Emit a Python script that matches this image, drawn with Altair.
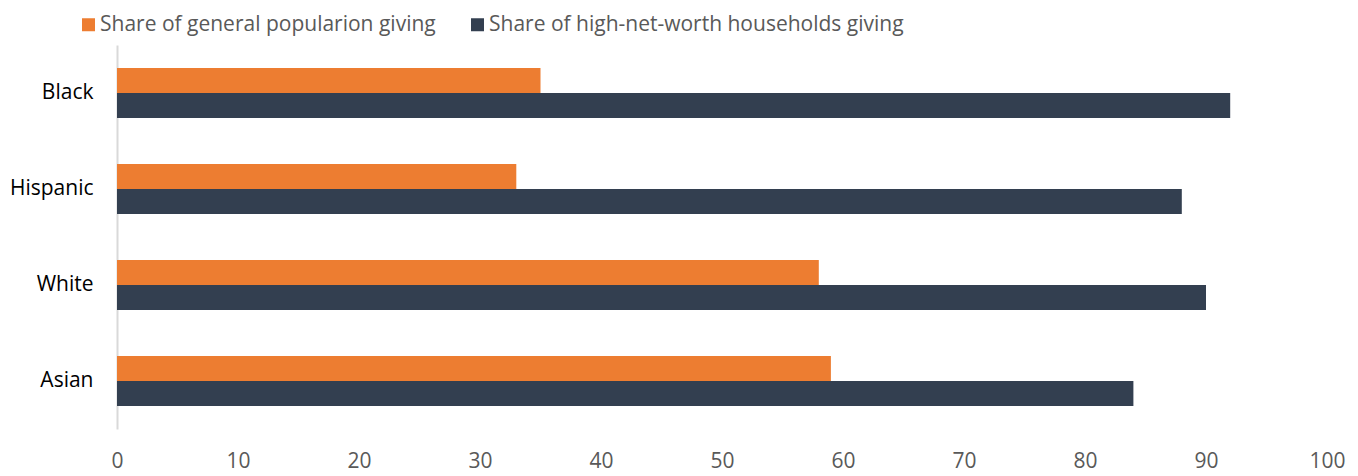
import altair as alt
import pandas as pd

categories = ["Black", "Hispanic", "White", "Asian"]
series = ["Share of general popularion giving", "Share of high-net-worth households giving"]
general = [35, 33, 58, 59]
hnw = [92, 88, 90, 84]
colors = ["#ED7D31", "#333F50"]

rows = []
for c, g, h in zip(categories, general, hnw):
    rows.append({"cat": c, "series": series[0], "val": g})
    rows.append({"cat": c, "series": series[1], "val": h})
df = pd.DataFrame(rows)

chart = alt.Chart(df).mark_bar().encode(
    y=alt.Y("cat:N", sort=categories, title=None,
            scale=alt.Scale(paddingInner=0.48, paddingOuter=0.24),
            axis=alt.Axis(labelFontSize=21, labelFont="Open Sans", labelColor="#000000",
                          labelPadding=24, ticks=False, domainColor="#d9d9d9",
                          domainWidth=2)),
    x=alt.X("val:Q", title=None, scale=alt.Scale(domain=[0, 100], nice=False),
            axis=alt.Axis(values=list(range(0, 101, 10)), labelFontSize=21,
                          labelFont="Open Sans", labelColor="#595959", grid=False,
                          domain=False, ticks=False, labelPadding=21, labelFlush=False)),
    yOffset=alt.YOffset("series:N", sort=series),
    color=alt.Color("series:N", sort=series,
                    scale=alt.Scale(domain=series, range=colors),
                    legend=alt.Legend(title=None, orient="none", direction="horizontal",
                                      legendX=-39, legendY=-31, symbolType="square",
                                      symbolSize=169, symbolStrokeWidth=0, symbolOpacity=1,
                                      labelFontSize=21, labelFont="Open Sans",
                                      labelColor="#595959", columnPadding=31,
                                      labelOffset=1, labelLimit=700)),
).properties(
    width=1210, height=384,
    autosize=alt.AutoSizeParams(type="none"),
    padding={"left": 109, "top": 37, "right": 20, "bottom": 46},
).configure_view(stroke=None)

chart.save("out.html", embed_options={"renderer": "svg", "actions": False})
